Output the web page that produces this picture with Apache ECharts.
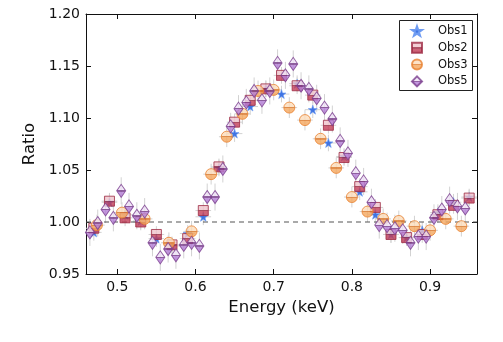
<!DOCTYPE html>
<html>
<head>
<meta charset="utf-8">
<script src="https://cdn.jsdelivr.net/npm/echarts@6/dist/echarts.min.js"></script>
<style>html,body{margin:0;padding:0;background:#fff}#c{width:503px;height:342px}</style>
</head>
<body>
<div id="c"></div>
<script>
// ---- data ----
var xTicks = [0.5, 0.6, 0.7, 0.8, 0.9];
var yTicks = [0.95, 1.00, 1.05, 1.10, 1.15, 1.20];

var obs1Energy = [0.47,0.49,0.51,0.53,0.55,0.57,0.59,0.61,0.63,0.65,0.67,0.69,0.71,0.73,0.75,0.77,0.79,0.81,0.83,0.85,0.87,0.89,0.91,0.93,0.95];
var obs1Ratio  = [0.990,1.019,1.007,1.001,0.984,0.977,0.989,1.005,1.052,1.085,1.111,1.128,1.123,1.133,1.108,1.076,1.063,1.029,1.007,0.988,0.985,0.992,1.009,1.019,1.024];

var obs2Energy = [0.47,0.49,0.51,0.53,0.55,0.57,0.59,0.61,0.63,0.65,0.67,0.69,0.71,0.73,0.75,0.77,0.79,0.81,0.83,0.85,0.87,0.89,0.91,0.93,0.95];
var obs2Ratio  = [0.994,1.020,1.004,1.000,0.988,0.978,0.984,1.011,1.053,1.096,1.117,1.128,1.141,1.131,1.122,1.093,1.062,1.034,1.014,0.988,0.985,0.988,1.007,1.016,1.023];

var obs3Energy = [0.474,0.506,0.535,0.566,0.595,0.620,0.640,0.660,0.680,0.700,0.720,0.740,0.760,0.780,0.800,0.820,0.840,0.860,0.880,0.900,0.920,0.940];
var obs3Ratio  = [0.997,1.009,1.003,0.980,0.991,1.046,1.082,1.104,1.126,1.127,1.110,1.098,1.080,1.052,1.024,1.010,1.003,1.001,0.996,0.992,1.003,0.996];

var obs5Energy = [0.465,0.475,0.485,0.495,0.505,0.515,0.525,0.535,0.545,0.555,0.565,0.575,0.585,0.595,0.605,0.615,0.625,0.635,0.645,0.655,0.665,0.675,0.685,0.695,0.705,0.715,0.725,0.735,0.745,0.755,0.765,0.775,0.785,0.795,0.805,0.815,0.825,0.835,0.845,0.855,0.865,0.875,0.885,0.895,0.905,0.915,0.925,0.935,0.945];
var obs5Ratio  = [0.990,0.999,1.012,1.004,1.030,1.015,1.006,1.010,0.980,0.966,0.974,0.968,0.978,0.980,0.977,1.024,1.024,1.051,1.092,1.109,1.115,1.126,1.117,1.126,1.153,1.141,1.152,1.131,1.128,1.119,1.110,1.099,1.078,1.066,1.047,1.039,1.019,0.997,0.996,0.994,0.992,0.980,0.986,0.986,1.004,1.012,1.021,1.015,1.013];

// approximate error half-widths per series (energy, ratio)
var obs1Err = [0.010, 0.008];
var obs2Err = [0.010, 0.008];
var obs3Err = [0.010, 0.010];
var obs5Err = [0.005, 0.013];

// ---- helpers ----
function zip(xs, ys){ return xs.map(function(x,i){ return [x, ys[i]]; }); }
function half(top, bottom, line){
  return new echarts.graphic.LinearGradient(0,0,0,1,[
    {offset:0,color:top},{offset:0.46,color:top},
    {offset:0.46,color:line},{offset:0.56,color:line},
    {offset:0.56,color:bottom},{offset:1,color:bottom}]);
}
function errSeries(xs, ys, err){
  return {
    type:'custom', silent:true, z:1,
    data: zip(xs, ys),
    renderItem:function(params, api){
      var x = api.value(0), y = api.value(1);
      var a = api.coord([x - err[0], y]), b = api.coord([x + err[0], y]);
      var c = api.coord([x, y - err[1]]), d = api.coord([x, y + err[1]]);
      var st = {stroke:'#d2d2d2', lineWidth:1};
      return {type:'group', children:[
        {type:'line', shape:{x1:a[0],y1:a[1],x2:b[0],y2:b[1]}, style:st},
        {type:'line', shape:{x1:c[0],y1:c[1],x2:d[0],y2:d[1]}, style:st}
      ]};
    }
  };
}
var starPath = 'path://M50,0 L61.8,35.1 L98.9,35.5 L69.1,57.6 L80.3,93 L50,71.6 L19.7,93 L30.9,57.6 L1.1,35.5 L38.2,35.1 Z';
var font = 'DejaVu Sans';

var chart = echarts.init(document.getElementById('c'), null, {renderer:'canvas'});
var option = {
  animation:false,
  textStyle:{fontFamily:font},
  grid:{left:86, right:26, top:14, bottom:68},
  graphic:[{
    type:'rect', z:50, silent:true,
    shape:{x:399.5, y:20.5, width:73, height:70},
    style:{fill:'#fff', stroke:'#222', lineWidth:1}
  }],
  legend:{
    orient:'vertical', left:399, top:20, z:60,
    padding:[5,3,5,12], itemWidth:10, itemHeight:10, itemGap:4.8,
    textStyle:{fontFamily:font, fontSize:11.5, color:'#111', lineHeight:10, padding:[0,0,0,11]},
    data:['Obs1','Obs2','Obs3','Obs5']
  },
  xAxis:[{
    type:'value', min:0.46, max:0.96,
    name:'Energy (keV)', nameLocation:'middle', nameGap:23,
    nameTextStyle:{fontFamily:font, fontSize:16.5, color:'#111'},
    axisLine:{show:true, lineStyle:{color:'#111', width:1}},
    axisTick:{show:true, inside:true, length:5, customValues:xTicks, lineStyle:{color:'#111'}},
    axisLabel:{show:true, customValues:xTicks, margin:6, fontFamily:font, fontSize:14, color:'#111',
      formatter:function(v){ return v.toFixed(1); }},
    splitLine:{show:false}
  },{
    type:'value', position:'top', min:0.46, max:0.96,
    axisLine:{show:true, lineStyle:{color:'#111', width:1}},
    axisTick:{show:true, inside:true, length:5, customValues:xTicks, lineStyle:{color:'#111'}},
    axisLabel:{show:false}, splitLine:{show:false}
  }],
  yAxis:[{
    type:'value', min:0.95, max:1.20, interval:0.05,
    name:'Ratio', nameLocation:'middle', nameGap:44,
    nameTextStyle:{fontFamily:font, fontSize:16.5, color:'#111'},
    axisLine:{show:true, lineStyle:{color:'#111', width:1}},
    axisTick:{show:true, inside:true, length:5, lineStyle:{color:'#111'}},
    axisLabel:{margin:6, fontFamily:font, fontSize:14, color:'#111',
      formatter:function(v){ return v.toFixed(2); }},
    splitLine:{show:false}
  },{
    type:'value', position:'right', min:0.95, max:1.20, interval:0.05,
    axisLine:{show:true, lineStyle:{color:'#111', width:1}},
    axisTick:{show:true, inside:true, length:5, lineStyle:{color:'#111'}},
    axisLabel:{show:false}, splitLine:{show:false}
  }],
  series:[
    errSeries(obs1Energy, obs1Ratio, obs1Err),
    errSeries(obs2Energy, obs2Ratio, obs2Err),
    errSeries(obs3Energy, obs3Ratio, obs3Err),
    errSeries(obs5Energy, obs5Ratio, obs5Err),
    {
      type:'line', silent:true, z:2, symbol:'none',
      data:[[0.46,1.0],[0.96,1.0]],
      lineStyle:{color:'#555', width:1.2, type:[5,4]}
    },
    {
      name:'Obs1', type:'scatter', z:3, data:zip(obs1Energy, obs1Ratio),
      symbol:starPath, symbolSize:9,
      itemStyle:{color:'#3f74e3', borderColor:'#6f9cf2', borderWidth:0.6, opacity:1}
    },
    {
      name:'Obs2', type:'scatter', z:4, data:zip(obs2Energy, obs2Ratio),
      symbol:'rect', symbolSize:10,
      itemStyle:{color:half('#efc3cb','#c23d57','#9e2b43'), borderColor:'#9e2b43', borderWidth:1}
    },
    {
      name:'Obs3', type:'scatter', z:5, data:zip(obs3Energy, obs3Ratio),
      symbol:'circle', symbolSize:11,
      itemStyle:{color:half('#fcdcba','#f4a75e','#e07a2a'), borderColor:'#e8812f', borderWidth:1}
    },
    {
      name:'Obs5', type:'scatter', z:6, data:zip(obs5Energy, obs5Ratio),
      symbol:'diamond', symbolSize:[9,13],
      itemStyle:{color:half('#efe2f6','#b47ed6','#7a3d8e'), borderColor:'#7a3d8e', borderWidth:1}
    }
  ]
};
chart.setOption(option);
</script>
</body>
</html>
